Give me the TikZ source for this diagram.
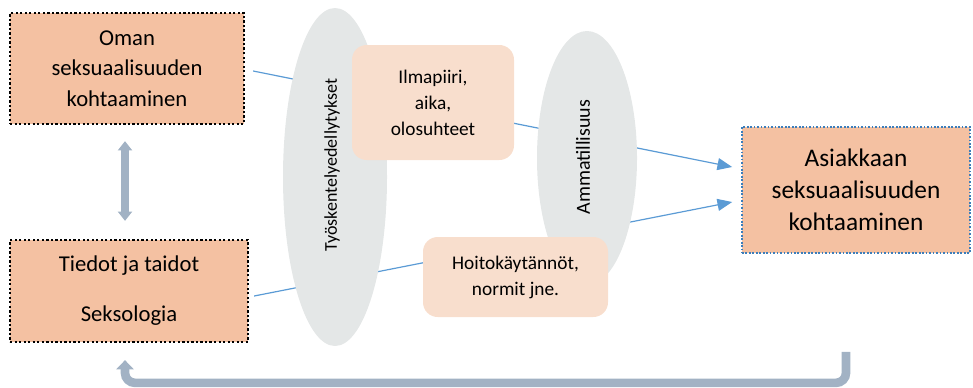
\documentclass[tikz,border=0pt]{standalone}
\usepackage{fontspec}
\setmainfont{Carlito}
\usetikzlibrary{arrows.meta,shapes.geometric,calc}
\definecolor{salmon}{HTML}{F4C1A2}
\definecolor{peach}{HTML}{F8DECD}
\definecolor{ovalgray}{HTML}{E4E7E7}
\definecolor{linkblue}{HTML}{5B9BD5}
\definecolor{frameblue}{HTML}{3C7EBB}
\definecolor{flowgray}{HTML}{A2B2C4}

\begin{document}
\begin{tikzpicture}[x=0.75pt,y=-0.75pt,
		dotbox/.style={fill=salmon,draw=black,line width=1.7pt,dash pattern=on 1.7pt off 1.7pt,align=center,inner sep=0pt},
		softbox/.style={fill=peach,rounded corners=11pt,align=center,inner sep=0pt},
		oval/.style={ellipse,fill=ovalgray,inner sep=0pt},
		link/.style={linkblue,line width=0.9pt,-{Triangle[length=11pt,width=9pt]}},
		flow/.style={flowgray,line width=6.5pt}]
			%%%%% START %%%%%
			
			\useasboundingbox (0,0) rectangle (973,387);
			
			\node[dotbox,minimum width=175.5pt,minimum height=83.25pt,font=\fontsize{17}{22.9}\selectfont] (oman) at (127,68.5) {Oman\\seksuaalisuuden\\kohtaaminen};
			\node[dotbox,minimum width=178.5pt,minimum height=76.5pt,font=\fontsize{17}{22.9}\selectfont] (tiedot) at (129,291) {Tiedot ja taidot\\[14.6pt]Seksologia};
			\node[dotbox,draw=frameblue,line width=1.3pt,dash pattern=on 1.3pt off 1.3pt,minimum width=171pt,minimum height=94.5pt,font=\fontsize{19}{24}\selectfont] (asiakas) at (856,190) {Asiakkaan\\seksuaalisuuden\\kohtaaminen};
			
			\draw[link] ([shift={(8,2.5)}]oman.east) -- ([shift={(-9,-23)}]asiakas.west);
			\draw[link] ([shift={(5,5)}]tiedot.east) -- ([shift={(-9,12)}]asiakas.west);
			
			\node[oval,minimum width=78pt,minimum height=253.5pt] (tyo) at (335,177) {};
			\node[oval,minimum width=75pt,minimum height=190.5pt] (amm) at (587,158) {};
			\node[rotate=90,font=\fontsize{13.5}{16}\selectfont] (tyoteksti) at (332,165) {Työskentelyedellytykset};
			\node[rotate=90,font=\fontsize{15}{18}\selectfont] (ammteksti) at (583,157) {Ammatillisuus};
			
			\node[softbox,minimum width=121.5pt,minimum height=86.25pt,font=\fontsize{14.5}{19.5}\selectfont] (ilma) at (433,102.5) {Ilmapiiri,\\aika,\\olosuhteet};
			\node[softbox,minimum width=138.75pt,minimum height=60pt,font=\fontsize{14.5}{19.5}\selectfont] (hoito) at (515.5,277) {Hoitokäytännöt,\\normit jne.};
			
			\draw[flow,{Triangle[length=7pt,width=10.5pt]}-{Triangle[length=7pt,width=10.5pt]}] ($(oman.south)+(-2,16)$) -- ($(tiedot.north)+(-4,-18)$);
			\draw[flow,rounded corners=7.5pt,-{Triangle[length=7pt,width=13pt]}] ([shift={(-10,98)}]asiakas.south) -- ++(0,31) -| ($(tiedot.south)+(-4,17)$);
			
			%%%%% END %%%%%
\end{tikzpicture}
\end{document}
